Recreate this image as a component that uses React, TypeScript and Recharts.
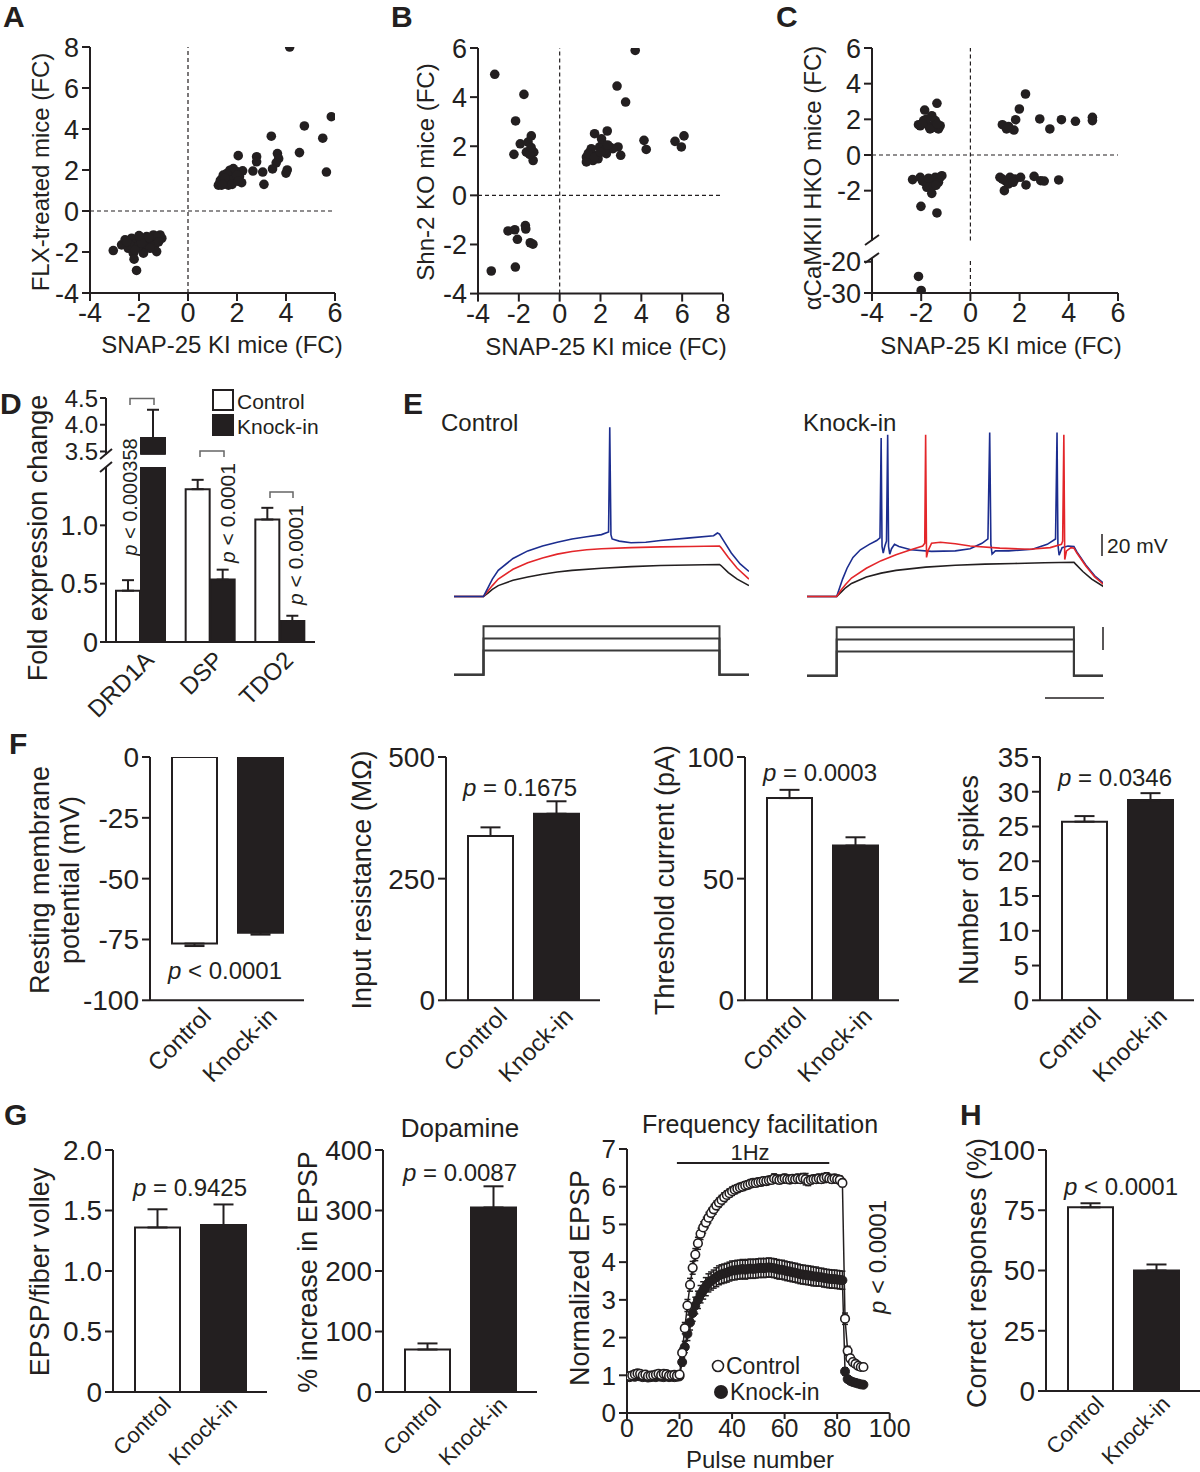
import React from "react";
import {
  Bar, BarChart, Cell, ErrorBar, Line, LineChart, ReferenceLine, Scatter, ScatterChart, XAxis, YAxis,
} from "recharts";

const INK = "#231f20";
const FONT = '"Liberation Sans", Arial, Helvetica, sans-serif';

// A-C: fold changes, SNAP-25 KI (x) vs other model (y)
const flxPoints = [
  [4.15, 8.0], [5.85, 4.6], [4.75, 4.15], [3.4, 3.65], [5.5, 3.55], [4.55, 2.85], [3.65, 2.8], [3.7, 2.55],
  [3.6, 2.35], [3.45, 2.05], [4.0, 1.85], [4.05, 2.0], [5.65, 1.9], [2.8, 2.65], [2.8, 2.4], [2.05, 2.7],
  [2.65, 1.95], [3.05, 1.9], [3.1, 1.3],
  [1.24, 1.26], [1.33, 1.51], [1.44, 1.75], [1.51, 1.35], [1.6, 1.59], [1.71, 1.99], [1.78, 1.43], [1.85, 1.75],
  [1.92, 1.51], [2.01, 1.91], [2.1, 1.67], [2.19, 1.38], [2.23, 1.96], [1.37, 1.26], [1.65, 1.26], [1.85, 2.07],
  [1.58, 1.83], [1.71, 1.51], [1.99, 1.75], [1.31, 1.43], [1.5, 1.6], [1.8, 1.3], [2.05, 1.45], [1.4, 1.3],
  [-3.05, -1.93], [-2.71, -1.65], [-2.57, -1.41], [-2.44, -1.82], [-2.3, -1.33], [-2.23, -2.06], [-2.2, -2.35],
  [-2.1, -2.9], [-2.1, -1.57], [-1.96, -1.33], [-1.89, -1.82], [-1.76, -1.49], [-1.69, -1.25], [-1.62, -1.73],
  [-1.48, -1.41], [-1.41, -1.17], [-1.35, -1.65], [-1.21, -1.33], [-1.14, -1.17], [-1.28, -1.98], [-1.55, -1.82],
  [-1.82, -2.06], [-2.37, -1.65], [-2.03, -1.73], [-1.07, -1.33], [-1.3, -1.25], [-2.5, -1.49], [-2.16, -1.9],
  [-1.6, -1.3], [-1.9, -1.55], [-1.2, -1.5], [-2.0, -1.2],
];

const shn2Points = [
  [-3.18, 4.93], [-1.75, 4.11], [-2.16, 3.03], [-1.93, 2.1], [-1.39, 2.42], [-2.24, 1.67], [-1.63, 1.76],
  [-1.27, 1.76], [-1.3, 1.42], [-1.55, 2.17], [-1.47, 1.67], [-1.4, 1.95],
  [-2.53, -1.45], [-2.2, -1.4], [-2.07, -1.79], [-1.68, -1.23], [-1.66, -1.37], [-1.44, -1.93], [-1.31, -1.99],
  [-2.17, -2.92], [-3.35, -3.08],
  [3.7, 5.9], [2.81, 4.45], [3.23, 3.8], [1.71, 2.51], [2.33, 2.62], [4.13, 2.24], [4.24, 1.87], [5.65, 2.2],
  [5.96, 1.97], [6.09, 2.42], [2.99, 1.63], [2.86, 1.97],
  [1.31, 1.56], [1.47, 1.76], [1.8, 1.63], [1.96, 1.97], [2.12, 2.1], [2.29, 1.7], [2.45, 1.97], [2.61, 1.9],
  [1.31, 1.36], [1.63, 1.42], [1.88, 1.49], [2.2, 1.83], [1.55, 1.9], [2.05, 2.3], [2.35, 2.05], [1.4, 1.7],
  [1.7, 1.55], [2.0, 1.75],
];

const camk2Points = [
  [-2.35, -1.38], [-1.36, 2.9], [-1.86, 2.52], [-1.57, 2.2], [-2.11, 1.7], [-1.9, 1.93], [-1.7, 1.64],
  [-1.5, 1.55], [-1.3, 1.46], [-1.23, 1.64], [-1.77, 2.02], [-2.04, 1.64], [-1.43, 1.93], [-1.64, 1.46],
  [-1.95, 1.75], [-1.35, 1.75],
  [-2.04, -1.25], [-1.84, -1.53], [-1.64, -1.44], [-1.43, -1.25], [-1.23, -1.25], [-1.77, -1.81], [-1.57, -2.15],
  [-1.5, -1.72], [-1.3, -1.53], [-1.16, -1.16], [-1.95, -1.45], [-1.4, -1.7], [-1.7, -1.3], [-2.01, -2.88],
  [-1.36, -3.25],
  [2.24, 3.42], [1.99, 2.58], [1.84, 1.98], [1.3, 1.7], [1.47, 1.46], [1.77, 1.4], [2.82, 2.02], [3.23, 1.46],
  [3.7, 1.98], [4.27, 1.89], [4.96, 2.11], [4.96, 1.93], [1.55, 1.6],
  [1.2, -1.25], [1.41, -1.44], [1.61, -1.25], [1.81, -1.35], [2.04, -1.25], [1.38, -2.0], [1.54, -1.63],
  [2.26, -1.68], [2.59, -1.2], [2.86, -1.44], [3.0, -1.46], [3.59, -1.4], [1.74, -1.53], [1.3, -1.35],
];
const camk2Deep = [[-2.11, -24.7], [-2.0, -29.2]];

// D: qPCR fold change
const genes = ["DRD1A", "DSP", "TDO2"];
const foldCtrl = [0.44, 1.31, 1.05];
const foldCtrlErr = [0.09, 0.08, 0.1];
const foldKi = [3.75, 0.535, 0.18];
const foldKiErr = [0.53, 0.085, 0.045];
const D_LOW_MAX = 1.5;
const D_UP_MIN = 3.44;

// E: voltage traces [ms, mV] and current steps (pA)
const ctrlBlack = [[0, -70], [100, -70], [115, -67], [130, -63.5], [150, -60], [200, -55], [250, -52], [300, -49.5], [350, -47.5], [400, -46], [500, -44], [600, -42.5], [700, -41.5], [800, -41], [900, -40.5], [905, -41.5], [930, -48], [960, -54], [1000, -60]];
const ctrlRed = [[0, -70], [100, -70], [115, -65], [130, -60], [150, -54], [200, -45], [250, -39], [300, -34.5], [350, -31], [400, -28.5], [450, -27], [500, -26], [600, -25], [700, -24.3], [800, -24], [900, -23.5], [905, -25], [930, -34], [960, -44], [1000, -54]];
const ctrlBlue = [[0, -70], [100, -70], [115, -62], [130, -54], [150, -46], [200, -35], [250, -28], [300, -23.5], [350, -20], [400, -17], [450, -15], [500, -13], [524, -10.5], [528, 86], [532, -13], [536, -17], [560, -19], [600, -20.5], [650, -20], [700, -18.5], [800, -16], [880, -14], [893, -11.5], [900, -12.5], [910, -17], [940, -30], [970, -40], [1000, -47]];
const kiBlack = [[0, -70], [100, -70], [115, -66], [130, -62], [150, -58], [200, -52], [250, -48.5], [300, -46], [400, -43], [500, -41.2], [600, -40.2], [700, -39.6], [800, -39], [900, -38.5], [905, -40], [930, -47], [960, -54], [1000, -61]];
const kiRed = [[0, -70], [100, -70], [115, -64], [130, -59], [150, -53], [200, -44], [250, -37], [300, -31.5], [350, -27], [390, -23.5], [397, -21], [400, 79], [403, -34], [408, -28], [420, -21], [450, -20], [500, -21.5], [550, -23.5], [650, -25.5], [750, -26.5], [820, -25], [858, -22], [862, -19], [866, 79], [869, -36], [875, -28], [890, -25], [900, -25.5], [910, -30], [940, -42], [970, -52], [1000, -59]];
const kiBlue = [[0, -70], [100, -70], [110, -62], [120, -54], [135, -44], [155, -34], [180, -27], [210, -22], [235, -18.5], [246, -16], [250, 76], [253, -24], [257, -30], [262, -24], [268, -19], [272, 79], [275, -24], [279, -31], [285, -26], [295, -22], [310, -24], [350, -27], [420, -28.5], [500, -28], [550, -26], [590, -21], [610, -17], [616, 81], [620, -22], [624, -31], [635, -28], [680, -28], [760, -26.5], [810, -22], [838, -17], [843, 81], [846, -22], [850, -32], [860, -25], [880, -23.5], [900, -24], [910, -29], [940, -41], [970, -51], [1000, -58]];
const stepLevels = [50, 75, 100];
const stepOn = 100;
const stepOff = 900;

// F-H: Control vs Knock-in
const groups = ["Control", "Knock-in"];
const restingMP = [-76.7, -72.2];
const restingMPErr = [1.0, 0.8];
const inputRes = [337.6, 383.4];
const inputResErr = [17.8, 25.6];
const threshold = [83.1, 63.6];
const thresholdErr = [3.4, 3.4];
const spikes = [25.7, 28.8];
const spikesErr = [0.8, 1.0];
const epspFv = [1.36, 1.38];
const epspFvErr = [0.15, 0.17];
const dopamine = [70.2, 305];
const dopamineErr = [10.1, 35];
const correct = [76.2, 50];
const correctErr = [1.7, 2.5];

// G: frequency facilitation, pulses 1..90
const ctrlFF = [
  0.98, 1.0, 1.03, 1.05, 1.04, 1.0, 1.02, 0.98, 0.99, 1.0,
  1.02, 1.04, 1.01, 1.04, 1.03, 0.99, 1.0, 1.01, 0.99, 1.02,
  1.6, 2.25, 2.85, 3.4, 3.85, 4.2, 4.5, 4.75, 4.92, 5.05,
  5.18, 5.3, 5.4, 5.5, 5.58, 5.65, 5.72, 5.78, 5.83, 5.88,
  5.92, 5.95, 5.98, 6.0, 6.03, 6.05, 6.08, 6.1, 6.1, 6.12,
  6.13, 6.15, 6.15, 6.17, 6.18, 6.22, 6.2, 6.18, 6.2, 6.22,
  6.2, 6.19, 6.21, 6.2, 6.22, 6.2, 6.23, 6.2, 6.15, 6.18,
  6.2, 6.2, 6.22, 6.2, 6.23, 6.25, 6.22, 6.2, 6.22, 6.2,
  6.18, 6.1, 2.5, 1.65, 1.45, 1.35, 1.3, 1.25, 1.22, 1.22,
];
const ctrlFFErr = [
  0.08, 0.07, 0.09, 0.08, 0.07, 0.08, 0.06, 0.07, 0.08, 0.07,
  0.08, 0.07, 0.06, 0.08, 0.07, 0.08, 0.07, 0.06, 0.07, 0.08,
  0.12, 0.15, 0.16, 0.17, 0.17, 0.16, 0.16, 0.15, 0.15, 0.14,
  0.14, 0.13, 0.13, 0.12, 0.12, 0.12, 0.12, 0.11, 0.11, 0.11,
  0.11, 0.1, 0.1, 0.1, 0.1, 0.1, 0.1, 0.1, 0.1, 0.1,
  0.1, 0.1, 0.1, 0.1, 0.1, 0.12, 0.1, 0.1, 0.1, 0.11,
  0.1, 0.1, 0.1, 0.1, 0.11, 0.1, 0.12, 0.15, 0.12, 0.1,
  0.1, 0.1, 0.11, 0.1, 0.12, 0.12, 0.1, 0.1, 0.1, 0.1,
  0.1, 0.1, 0.15, 0.12, 0.1, 0.09, 0.08, 0.08, 0.08, 0.08,
];
const kiFF = [
  0.95, 0.97, 0.96, 0.98, 0.97, 0.95, 0.96, 0.94, 0.95, 0.96,
  0.95, 0.97, 0.96, 0.95, 0.97, 0.95, 0.96, 0.95, 0.96, 0.97,
  1.35, 1.75, 2.1, 2.4, 2.65, 2.85, 3.0, 3.15, 3.25, 3.35,
  3.45, 3.5, 3.55, 3.6, 3.65, 3.68, 3.7, 3.72, 3.75, 3.78,
  3.78, 3.8, 3.8, 3.82, 3.8, 3.82, 3.83, 3.82, 3.83, 3.84,
  3.85, 3.84, 3.85, 3.86, 3.85, 3.84, 3.82, 3.8, 3.8, 3.78,
  3.76, 3.75, 3.73, 3.72, 3.7, 3.68, 3.67, 3.66, 3.65, 3.64,
  3.62, 3.62, 3.6, 3.6, 3.58, 3.57, 3.56, 3.55, 3.55, 3.54,
  3.53, 3.52, 1.1, 0.9, 0.85, 0.82, 0.8, 0.78, 0.76, 0.75,
];
const kiFFErr = [
  0.05, 0.06, 0.05, 0.05, 0.06, 0.05, 0.05, 0.06, 0.05, 0.05,
  0.05, 0.06, 0.05, 0.05, 0.05, 0.06, 0.05, 0.05, 0.05, 0.06,
  0.1, 0.15, 0.18, 0.2, 0.22, 0.22, 0.23, 0.23, 0.23, 0.24,
  0.24, 0.24, 0.24, 0.25, 0.25, 0.25, 0.25, 0.25, 0.25, 0.25,
  0.25, 0.25, 0.25, 0.25, 0.25, 0.25, 0.25, 0.25, 0.25, 0.25,
  0.25, 0.25, 0.25, 0.25, 0.25, 0.25, 0.25, 0.25, 0.25, 0.25,
  0.25, 0.25, 0.25, 0.25, 0.25, 0.25, 0.25, 0.25, 0.25, 0.25,
  0.25, 0.25, 0.24, 0.24, 0.24, 0.24, 0.24, 0.24, 0.24, 0.24,
  0.24, 0.24, 0.1, 0.08, 0.07, 0.07, 0.06, 0.06, 0.06, 0.06,
];

const axisLine = { stroke: INK, strokeWidth: 2 };
const tickLine = { stroke: INK, strokeWidth: 2 };
const tickStyle = (fs: number) => ({ fill: INK, fontSize: fs, fontFamily: FONT });
const oneDec = (v: number) => (v === 0 ? "0" : v.toFixed(1));

const slantTick = (dx: number, dy: number, fs: number) => (p: any) => {
  const ax = p.x + dx;
  const ay = p.y + dy;
  return (
    <text x={ax} y={ay} transform={`rotate(-45 ${ax} ${ay})`} textAnchor="end" dominantBaseline="hanging"
      fontSize={fs} fontFamily={FONT} fill={INK}>
      {p.payload.value}
    </text>
  );
};

const dot = (p: any) => <circle cx={p.cx} cy={p.cy} r={4.8} fill={INK} />;

function ScatterPanel({ left, top, w, h, xDomain, yDomain, xTicks, yTicks, points, showX = true, zeroY = true }: any) {
  const yW = 60, mt = 24, mr = 22;
  const xH = showX ? 44 : 16;
  const data = points.map(([x, y]: number[]) => ({ x, y }));
  return (
    <div style={{ position: "absolute", left: left - yW, top: top - mt }}>
      <ScatterChart width={yW + w + mr} height={mt + h + xH}
        margin={{ top: mt, right: mr, left: 0, bottom: showX ? 0 : xH }}>
        <XAxis type="number" dataKey="x" domain={xDomain} ticks={xTicks} interval={0} allowDataOverflow hide={!showX}
          height={showX ? xH : 0} axisLine={axisLine} tickLine={tickLine} tickSize={8} tickMargin={2} tick={tickStyle(27)} />
        <YAxis type="number" dataKey="y" domain={yDomain} ticks={yTicks} interval={0} allowDataOverflow width={yW}
          axisLine={axisLine} tickLine={tickLine} tickSize={8} tickMargin={3} tick={tickStyle(27)} />
        <ReferenceLine x={0} stroke={INK} strokeWidth={1.2} strokeDasharray="4 3" />
        {zeroY && <ReferenceLine y={0} stroke={INK} strokeWidth={1.2} strokeDasharray="4 3" />}
        <Scatter data={data} shape={dot} isAnimationActive={false} />
      </ScatterChart>
    </div>
  );
}

function PairPanel({ left, top, h, vals, errs, domain, ticks, fmt, down = false, lab = [6, 5, 24] }: any) {
  const yW = 80, mt = 24, mr = 16, xH = 110, w = 154;
  const data = groups.map((g, i) => ({ g, v: vals[i], e: down ? [errs[i], 0] : [0, errs[i]] }));
  return (
    <div style={{ position: "absolute", left: left - yW, top: top - mt }}>
      <BarChart width={yW + w + mr} height={mt + h + xH} data={data} margin={{ top: mt, right: mr, left: 0, bottom: 0 }}>
        <XAxis dataKey="g" interval={0} height={xH} padding={{ left: 11, right: 11 }} axisLine={axisLine}
          tickLine={false} tickSize={0} tickMargin={0} tick={slantTick(lab[0], lab[1], lab[2])} />
        <YAxis type="number" width={yW} domain={domain} ticks={ticks} interval={0} allowDataOverflow
          tickFormatter={fmt} axisLine={axisLine} tickLine={tickLine} tickSize={8} tickMargin={3} tick={tickStyle(28)} />
        <Bar dataKey="v" barSize={45} stroke={INK} strokeWidth={2} isAnimationActive={false}>
          {data.map((d, i) => <Cell key={d.g} fill={i === 0 ? "#fff" : INK} />)}
          <ErrorBar dataKey="e" direction="y" width={10} stroke={INK} strokeWidth={2} />
        </Bar>
      </BarChart>
    </div>
  );
}

function FoldPanel({ top, h, domain, ticks, data, showX, fs }: any) {
  const left = 106, yW = 60, mt = 20, mr = 16, w = 209;
  const xH = showX ? 100 : 16;
  return (
    <div style={{ position: "absolute", left: left - yW, top: top - mt }}>
      <BarChart width={yW + w + mr} height={mt + h + xH} data={data} barGap={1}
        margin={{ top: mt, right: mr, left: 0, bottom: showX ? 0 : xH }}>
        <XAxis dataKey="g" interval={0} hide={!showX} height={showX ? xH : 0} axisLine={axisLine} tickLine={false}
          tickSize={0} tickMargin={0} tick={slantTick(2, 7, 24)} />
        <YAxis type="number" width={yW} domain={domain} ticks={ticks} interval={0} allowDataOverflow
          tickFormatter={oneDec} axisLine={axisLine} tickLine={tickLine} tickSize={6} tickMargin={2} tick={tickStyle(fs)} />
        <Bar dataKey="c" barSize={24} fill="#fff" stroke={INK} strokeWidth={2} isAnimationActive={false}>
          <ErrorBar dataKey="ce" direction="y" width={6} stroke={INK} strokeWidth={2} />
        </Bar>
        <Bar dataKey="k" barSize={24} fill={INK} stroke={INK} strokeWidth={2} isAnimationActive={false}>
          <ErrorBar dataKey="ke" direction="y" width={6} stroke={INK} strokeWidth={2} />
        </Bar>
      </BarChart>
    </div>
  );
}

function TraceChart({ left, top, w, h, yDomain, traces }: any) {
  return (
    <div style={{ position: "absolute", left, top }}>
      <LineChart width={w} height={h} margin={{ top: 0, right: 0, bottom: 0, left: 0 }}>
        <XAxis type="number" dataKey="t" domain={[0, 1000]} hide allowDataOverflow />
        <YAxis type="number" domain={yDomain} hide allowDataOverflow />
        {traces.map((tr: any, i: number) => (
          <Line key={i} data={tr.pts.map(([t, v]: number[]) => ({ t, v }))} dataKey="v" type="linear"
            stroke={tr.color} strokeWidth={tr.sw ?? 1.6} dot={false} isAnimationActive={false} />
        ))}
      </LineChart>
    </div>
  );
}

const stepTraces = stepLevels.map((L) => ({
  pts: [[0, 0], [stepOn, 0], [stepOn, L], [stepOff, L], [stepOff, 0], [1000, 0]],
  color: "#3a3a3a",
  sw: 2,
}));

const PText = ({ x, y, op, val, fs = 24, rot = false }: any) => (
  <text x={x} y={y} textAnchor="middle" dominantBaseline="central" fontSize={fs}
    transform={rot ? `rotate(-90 ${x} ${y})` : undefined}>
    <tspan fontStyle="italic">p</tspan>
    {` ${op} ${val}`}
  </text>
);

const VTitle = ({ x, y, fs = 27, children }: any) => (
  <text x={x} y={y} textAnchor="middle" dominantBaseline="central" fontSize={fs} transform={`rotate(-90 ${x} ${y})`}>
    {children}
  </text>
);

const Letter = ({ x, y, children }: any) => (
  <text x={x} y={y} fontSize={30} fontWeight="bold">{children}</text>
);

export default function App() {
  const dLow = genes.map((g, i) => ({
    g,
    c: foldCtrl[i],
    ce: [0, foldCtrlErr[i]],
    k: Math.min(foldKi[i], D_LOW_MAX),
    ke: foldKi[i] > D_LOW_MAX ? undefined : [0, foldKiErr[i]],
  }));
  const dUp = genes.map((g, i) => ({
    g,
    c: undefined,
    ce: undefined,
    k: foldKi[i] > D_UP_MIN ? foldKi[i] : undefined,
    ke: foldKi[i] > D_UP_MIN ? [0, foldKiErr[i]] : undefined,
  }));
  const ffData = ctrlFF.map((c, i) => ({ p: i + 1, c, ce: ctrlFFErr[i], k: kiFF[i], ke: kiFFErr[i] }));
  const gLab = [4, 3, 22];

  return (
    <div style={{ position: "absolute", left: 0, top: 0, width: 1200, height: 1472, background: "#fff", overflow: "hidden", fontFamily: FONT }}>
      {/* A, B, C */}
      <ScatterPanel left={90} top={47} w={245} h={246} xDomain={[-4, 6]} yDomain={[-4, 8]}
        xTicks={[-4, -2, 0, 2, 4, 6]} yTicks={[-4, -2, 0, 2, 4, 6, 8]} points={flxPoints} />
      <ScatterPanel left={478} top={47.7} w={245} h={245.6} xDomain={[-4, 8]} yDomain={[-4, 6]}
        xTicks={[-4, -2, 0, 2, 4, 6, 8]} yTicks={[-4, -2, 0, 2, 4, 6]} points={shn2Points} />
      <ScatterPanel left={872} top={47.7} w={246} h={192.6} xDomain={[-4, 6]} yDomain={[-4.8, 6]}
        xTicks={[-4, -2, 0, 2, 4, 6]} yTicks={[-2, 0, 2, 4, 6]} points={camk2Points} showX={false} />
      <ScatterPanel left={872} top={258.3} w={246} h={35} xDomain={[-4, 6]} yDomain={[-30, -18.8]}
        xTicks={[-4, -2, 0, 2, 4, 6]} yTicks={[-30, -20]} points={camk2Deep} zeroY={false} />

      {/* D */}
      <FoldPanel top={398.3} h={56.7} domain={[D_UP_MIN, 4.5]} ticks={[3.5, 4.0, 4.5]} data={dUp} showX={false} fs={24} />
      <FoldPanel top={466.7} h={175} domain={[0, D_LOW_MAX]} ticks={[0, 0.5, 1.0]} data={dLow} showX fs={27} />

      {/* E */}
      <TraceChart left={453.5} top={412.2} w={295} h={195.3} yDomain={[-80, 100]}
        traces={[{ pts: ctrlBlack, color: INK }, { pts: ctrlRed, color: "#e3262a" }, { pts: ctrlBlue, color: "#1c2d8f" }]} />
      <TraceChart left={806.5} top={412.2} w={296.6} h={195.3} yDomain={[-80, 100]}
        traces={[{ pts: kiBlack, color: INK }, { pts: kiBlue, color: "#1c2d8f" }, { pts: kiRed, color: "#e3262a" }]} />
      <TraceChart left={453.5} top={619.2} w={295} h={84.9} yDomain={[-60, 115]} traces={stepTraces} />
      <TraceChart left={806.5} top={619.9} w={296.6} h={84.9} yDomain={[-60, 115]} traces={stepTraces} />

      {/* F */}
      <PairPanel left={150} top={756.7} h={243.3} vals={restingMP} errs={restingMPErr} domain={[-100, 0]}
        ticks={[-100, -75, -50, -25, 0]} down />
      <PairPanel left={446} top={756.7} h={243.3} vals={inputRes} errs={inputResErr} domain={[0, 500]} ticks={[0, 250, 500]} />
      <PairPanel left={745} top={756.7} h={243.3} vals={threshold} errs={thresholdErr} domain={[0, 100]} ticks={[0, 50, 100]} />
      <PairPanel left={1040} top={756.7} h={243.3} vals={spikes} errs={spikesErr} domain={[0, 35]}
        ticks={[0, 5, 10, 15, 20, 25, 30, 35]} />

      {/* G, H */}
      <PairPanel left={113} top={1150} h={242} vals={epspFv} errs={epspFvErr} domain={[0, 2]}
        ticks={[0, 0.5, 1, 1.5, 2]} fmt={oneDec} lab={gLab} />
      <PairPanel left={383} top={1150} h={242} vals={dopamine} errs={dopamineErr} domain={[0, 400]}
        ticks={[0, 100, 200, 300, 400]} lab={gLab} />
      <PairPanel left={1046} top={1150} h={241} vals={correct} errs={correctErr} domain={[0, 100]}
        ticks={[0, 25, 50, 75, 100]} lab={gLab} />

      <div style={{ position: "absolute", left: 627.3 - 50, top: 1149.3 - 20 }}>
        <LineChart width={50 + 262.7 + 30} height={20 + 264 + 36} data={ffData} margin={{ top: 20, right: 30, left: 0, bottom: 0 }}>
          <XAxis type="number" dataKey="p" domain={[0, 100]} ticks={[0, 20, 40, 60, 80, 100]} interval={0}
            allowDataOverflow height={36} axisLine={axisLine} tickLine={tickLine} tickSize={6} tickMargin={0} tick={tickStyle(25)} />
          <YAxis type="number" domain={[0, 7]} ticks={[0, 1, 2, 3, 4, 5, 6, 7]} interval={0} allowDataOverflow width={50}
            axisLine={axisLine} tickLine={tickLine} tickSize={8} tickMargin={3} tick={tickStyle(26)} />
          <ReferenceLine segment={[{ x: 19, y: 6.63 }, { x: 77, y: 6.63 }]} stroke={INK} strokeWidth={2} />
          <Line dataKey="k" type="linear" stroke={INK} strokeWidth={1.5} isAnimationActive={false}
            dot={{ r: 4.5, fill: INK, stroke: INK, strokeWidth: 1 }}>
            <ErrorBar dataKey="ke" direction="y" width={3} stroke={INK} strokeWidth={1.5} />
          </Line>
          <Line dataKey="c" type="linear" stroke={INK} strokeWidth={1.5} isAnimationActive={false}
            dot={{ r: 4.3, fill: "#fff", stroke: INK, strokeWidth: 1.6 }}>
            <ErrorBar dataKey="ce" direction="y" width={3} stroke={INK} strokeWidth={1.5} />
          </Line>
        </LineChart>
      </div>

      {/* annotations */}
      <svg width={1200} height={1472} style={{ position: "absolute", left: 0, top: 0, pointerEvents: "none" }}
        fontFamily={FONT} fill={INK}>
        <Letter x={3} y={27}>A</Letter>
        <Letter x={391} y={27}>B</Letter>
        <Letter x={776} y={27}>C</Letter>
        <Letter x={0} y={414}>D</Letter>
        <Letter x={403} y={414}>E</Letter>
        <Letter x={9} y={754}>F</Letter>
        <Letter x={4} y={1125}>G</Letter>
        <Letter x={960} y={1125}>H</Letter>

        <VTitle x={40} y={172} fs={24}>FLX-treated mice (FC)</VTitle>
        <text x={222} y={344} textAnchor="middle" dominantBaseline="central" fontSize={24}>SNAP-25 KI mice (FC)</text>
        <VTitle x={425} y={172} fs={24}>Shn-2 KO mice (FC)</VTitle>
        <text x={606} y={346} textAnchor="middle" dominantBaseline="central" fontSize={24}>SNAP-25 KI mice (FC)</text>
        <VTitle x={812} y={178} fs={24}>αCaMKII HKO mice (FC)</VTitle>
        <text x={1001} y={345} textAnchor="middle" dominantBaseline="central" fontSize={24}>SNAP-25 KI mice (FC)</text>
        <g stroke={INK} strokeWidth={2} fill="none">
          <path d="M865 245 L879 235" />
          <path d="M865 263 L879 253" />
          <path d="M100 459 L112 449" />
          <path d="M100 472 L112 462" />
        </g>

        {/* D extras */}
        <VTitle x={38} y={538} fs={27}>Fold expression change</VTitle>
        <rect x={213} y={390} width={20} height={20} fill="#fff" stroke={INK} strokeWidth={2} />
        <rect x={213} y={415} width={20} height={20} fill={INK} stroke={INK} strokeWidth={2} />
        <text x={237} y={401} dominantBaseline="central" fontSize={21}>Control</text>
        <text x={237} y={426} dominantBaseline="central" fontSize={21}>Knock-in</text>
        <g stroke="#666" strokeWidth={1.5} fill="none">
          <path d="M130 405 V398.5 H154 V405" />
          <path d="M200 457 V451 H224 V457" />
          <path d="M270 498 V492 H293 V498" />
        </g>
        <PText x={130} y={497} op="<" val="0.000358" fs={20} rot />
        <PText x={227} y={513} op="<" val="0.0001" fs={21} rot />
        <PText x={295} y={555} op="<" val="0.0001" fs={21} rot />

        {/* E extras */}
        <text x={441} y={422} dominantBaseline="central" fontSize={24}>Control</text>
        <text x={803} y={422} dominantBaseline="central" fontSize={24}>Knock-in</text>
        <g stroke={INK} strokeWidth={1.5}>
          <line x1={1102} y1={534} x2={1102} y2={556} />
          <line x1={1103} y1={627} x2={1103} y2={650} />
          <line x1={1045} y1={698} x2={1104} y2={698} />
        </g>
        <text x={1107} y={545} dominantBaseline="central" fontSize={21}>20 mV</text>

        {/* F extras */}
        <VTitle x={40} y={880}>Resting membrane</VTitle>
        <VTitle x={70} y={880}>potential (mV)</VTitle>
        <VTitle x={362} y={880}>Input resistance (MΩ)</VTitle>
        <VTitle x={665} y={880}>Threshold current (pA)</VTitle>
        <VTitle x={969} y={880}>Number of spikes</VTitle>
        <PText x={225} y={970} op="<" val="0.0001" />
        <PText x={520} y={787} op="=" val="0.1675" />
        <PText x={820} y={772} op="=" val="0.0003" />
        <PText x={1115} y={777} op="=" val="0.0346" />

        {/* G, H extras */}
        <VTitle x={40} y={1272}>EPSP/fiber volley</VTitle>
        <VTitle x={308} y={1272}>% increase in EPSP</VTitle>
        <VTitle x={580} y={1278}>Normalized EPSP</VTitle>
        <VTitle x={977} y={1273}>Correct responses (%)</VTitle>
        <PText x={190} y={1187} op="=" val="0.9425" />
        <PText x={460} y={1172} op="=" val="0.0087" />
        <PText x={1121} y={1186} op="<" val="0.0001" />
        <PText x={877} y={1257} op="<" val="0.0001" rot />
        <text x={460} y={1128} textAnchor="middle" dominantBaseline="central" fontSize={26}>Dopamine</text>
        <text x={760} y={1124} textAnchor="middle" dominantBaseline="central" fontSize={25}>Frequency facilitation</text>
        <text x={750} y={1152} textAnchor="middle" dominantBaseline="central" fontSize={22}>1Hz</text>
        <text x={760} y={1459} textAnchor="middle" dominantBaseline="central" fontSize={24}>Pulse number</text>
        <circle cx={718} cy={1366} r={5.5} fill="#fff" stroke={INK} strokeWidth={1.6} />
        <circle cx={721} cy={1392} r={7} fill={INK} />
        <text x={726} y={1366} dominantBaseline="central" fontSize={23}>Control</text>
        <text x={730} y={1392} dominantBaseline="central" fontSize={23}>Knock-in</text>
      </svg>
    </div>
  );
}
